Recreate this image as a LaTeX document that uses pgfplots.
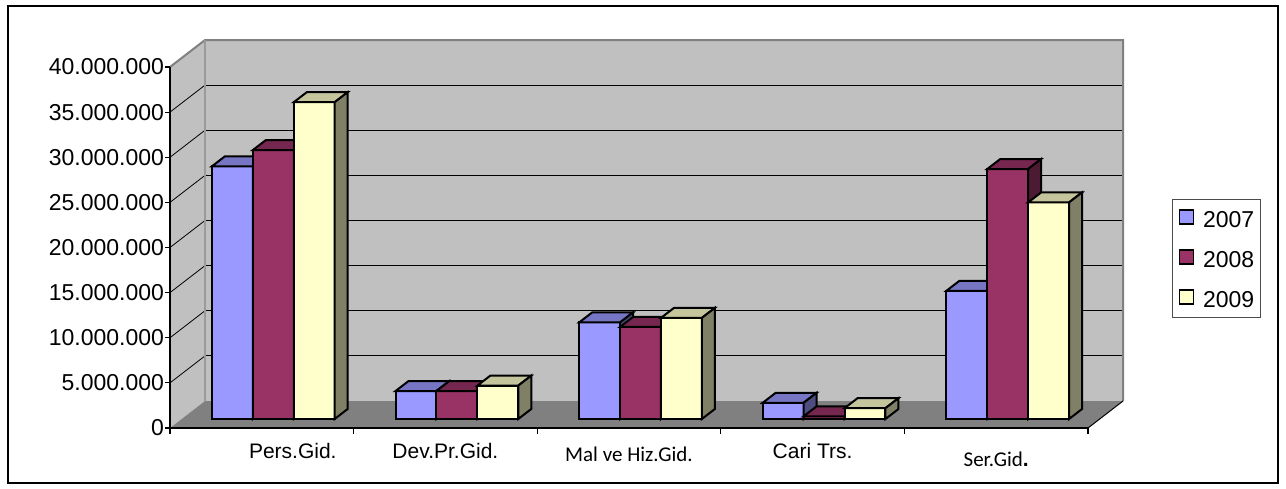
\documentclass[border=0pt]{standalone}
\usepackage{fontspec}
\setmainfont{Liberation Sans}
\newfontfamily\calibri{Carlito}
\usepackage{pgfplots}
\usepackage{pgfplotstable}
\pgfplotsset{compat=1.18}

\definecolor{c07}{HTML}{9999FF}
\definecolor{t07}{HTML}{7676C5}
\definecolor{s07}{HTML}{4D4D80}
\definecolor{c08}{HTML}{993366}
\definecolor{t08}{HTML}{762750}
\definecolor{s08}{HTML}{4D1A33}
\definecolor{c09}{HTML}{FFFFCC}
\definecolor{t09}{HTML}{C4C49D}
\definecolor{s09}{HTML}{808066}
\definecolor{wall}{HTML}{C0C0C0}
\definecolor{floor}{HTML}{808080}

% giderler, TL
\pgfplotstableread{
x   v07      v08      v09
0.5 28000000 29800000 35100000
1.5 3100000  3100000  3700000
2.5 10700000 10200000 11200000
3.5 1800000  300000   1200000
4.5 14200000 27700000 24000000
}\gider

\pgfdeclareplotmark{empty}{}

% the whole box of each bar, drawn from the bar top (marks keep plot order)
\pgfplotsset{
  faces/.style n args={4}{
    scatter, only marks, forget plot, mark=empty,
    point meta=y, point meta min=0, point meta max=40000000,
    scatter/@pre marker code/.code={
      \pgfmathsetmacro\barh{\pgfplotspointmetatransformed*0.1805}
      \filldraw[fill=#2, draw=black, line width=1pt]
        (#1pt-10.225pt,0pt) rectangle (#1pt+10.225pt,-\barh pt);
      \filldraw[fill=#3, draw=black, line width=1pt]
        (#1pt-10.225pt,0pt) -- (#1pt+10.225pt,0pt) -- (#1pt+16.725pt,5pt)
        -- (#1pt-3.725pt,5pt) -- cycle;
      \filldraw[fill=#4, draw=black, line width=1pt]
        (#1pt+10.225pt,0pt) -- (#1pt+16.725pt,5pt) -- (#1pt+16.725pt,5pt-\barh pt)
        -- (#1pt+10.225pt,-\barh pt) -- cycle;
    },
    scatter/@post marker code/.code={},
  },
  front/.style n args={2}{
    ybar, bar width=20.45pt, bar shift=#1pt, fill=#2, draw=black, line width=1pt,
    legend image code/.code={
      \filldraw[fill=#2, draw=black, line width=0.8pt] (0pt,-2.5pt) rectangle (7pt,4.5pt);},
  },
}

\begin{document}
\begin{tikzpicture}
% walls, floor and gridlines, in pixels from the top left corner
\begin{scope}[x=0.5pt, y=-0.5pt]
  \useasboundingbox (0,0) rectangle (1286,488);
  \fill[white] (0,0) rectangle (1286,488);
  \fill[wall] (170,67) -- (205,40) -- (205,401) -- (170,428) -- cycle;
  \fill[wall] (205,40) rectangle (1123,401);
  \fill[floor] (170,428) -- (205,401) -- (1123,401) -- (1088,428) -- cycle;
  \foreach \k in {1,...,7} {
    \draw[black, line width=0.6pt] (205,{40+45.125*\k}) -- (1123,{40+45.125*\k});
    \draw[black, line width=0.4pt] (170,{67+45.125*\k}) -- (205,{40+45.125*\k});
  }
  \draw[floor, line width=1pt] (170,67) -- (205,40) -- (1123,40) -- (1123,401);
  \draw[floor!80!white, line width=1pt] (205,40) -- (205,401);
  \draw[black, line width=0.5pt] (1088,428) -- (1123,401);
  \draw[black, line width=1pt] (8,6) rectangle (1278,483);
\end{scope}

% front plane: ticks and labels
\begin{axis}[
    at={(85pt,-214pt)}, anchor=south west,
    scale only axis, width=459pt, height=180.5pt,
    xmin=0, xmax=5, ymin=0, ymax=40000000,
    clip=false,
    axis x line*=bottom, axis y line*=left,
    axis line style={black, line width=0.6pt, -},
    tick style={black, line width=0.6pt},
    tick align=outside,
    xtick={0.5,1.5,2.5,3.5,4.5},
    major x tick style={draw=none},
    minor xtick={0,1,2,3,4,5},
    minor tick length=3pt,
    major tick length=2.5pt,
    ytick={0,5000000,10000000,15000000,20000000,25000000,30000000,35000000,40000000},
    scaled y ticks=false,
    /pgf/number format/assume math mode=true,
    /pgf/number format/fixed,
    /pgf/number format/precision=0,
    /pgf/number format/1000 sep={.},
    yticklabel style={font=\fontsize{11.5}{13}\selectfont, xshift=3pt},
    xticklabel style={font=\fontsize{10.5}{12}\selectfont, anchor=base, yshift=-12.5pt},
    xticklabels={{\hspace*{31pt}Pers.Gid.}, Dev.Pr.Gid., {\raisebox{-1.5pt}{\calibri Mal ve Hiz.Gid.}},
      Cari Trs., {\raisebox{-4pt}{{\calibri Ser.Gid}\textbf{.}}}},
]
\end{axis}

% bar plane
\begin{axis}[
    at={(90.75pt,-209.5pt)}, anchor=south west,
    scale only axis, width=459pt, height=180.5pt,
    xmin=0, xmax=5, ymin=0, ymax=40000000,
    clip=false, hide axis,
    legend style={at={(1.079,0.6095)}, anchor=north west,
      draw=black!70, line width=0.5pt, fill=white,
      font=\fontsize{11.5}{13}\selectfont,
      nodes={inner sep=0pt, text height=8.5pt, text depth=0pt},
      row sep=10.75pt, inner xsep=3pt, inner ysep=5pt,
      /tikz/every odd column/.append style={column sep=4.5pt}},
    legend cell align=left,
]
\addplot[front={-20.45}{c07}] table[x=x, y=v07] {\gider};
\addlegendentry{2007}
\addplot[faces={-20.45}{c07}{t07}{s07}] table[x=x, y=v07] {\gider};
\addplot[front={0}{c08}] table[x=x, y=v08] {\gider};
\addlegendentry{2008}
\addplot[faces={0}{c08}{t08}{s08}] table[x=x, y=v08] {\gider};
\addplot[front={20.45}{c09}] table[x=x, y=v09] {\gider};
\addlegendentry{2009}
\addplot[faces={20.45}{c09}{t09}{s09}] table[x=x, y=v09] {\gider};
\end{axis}
\end{tikzpicture}
\end{document}
